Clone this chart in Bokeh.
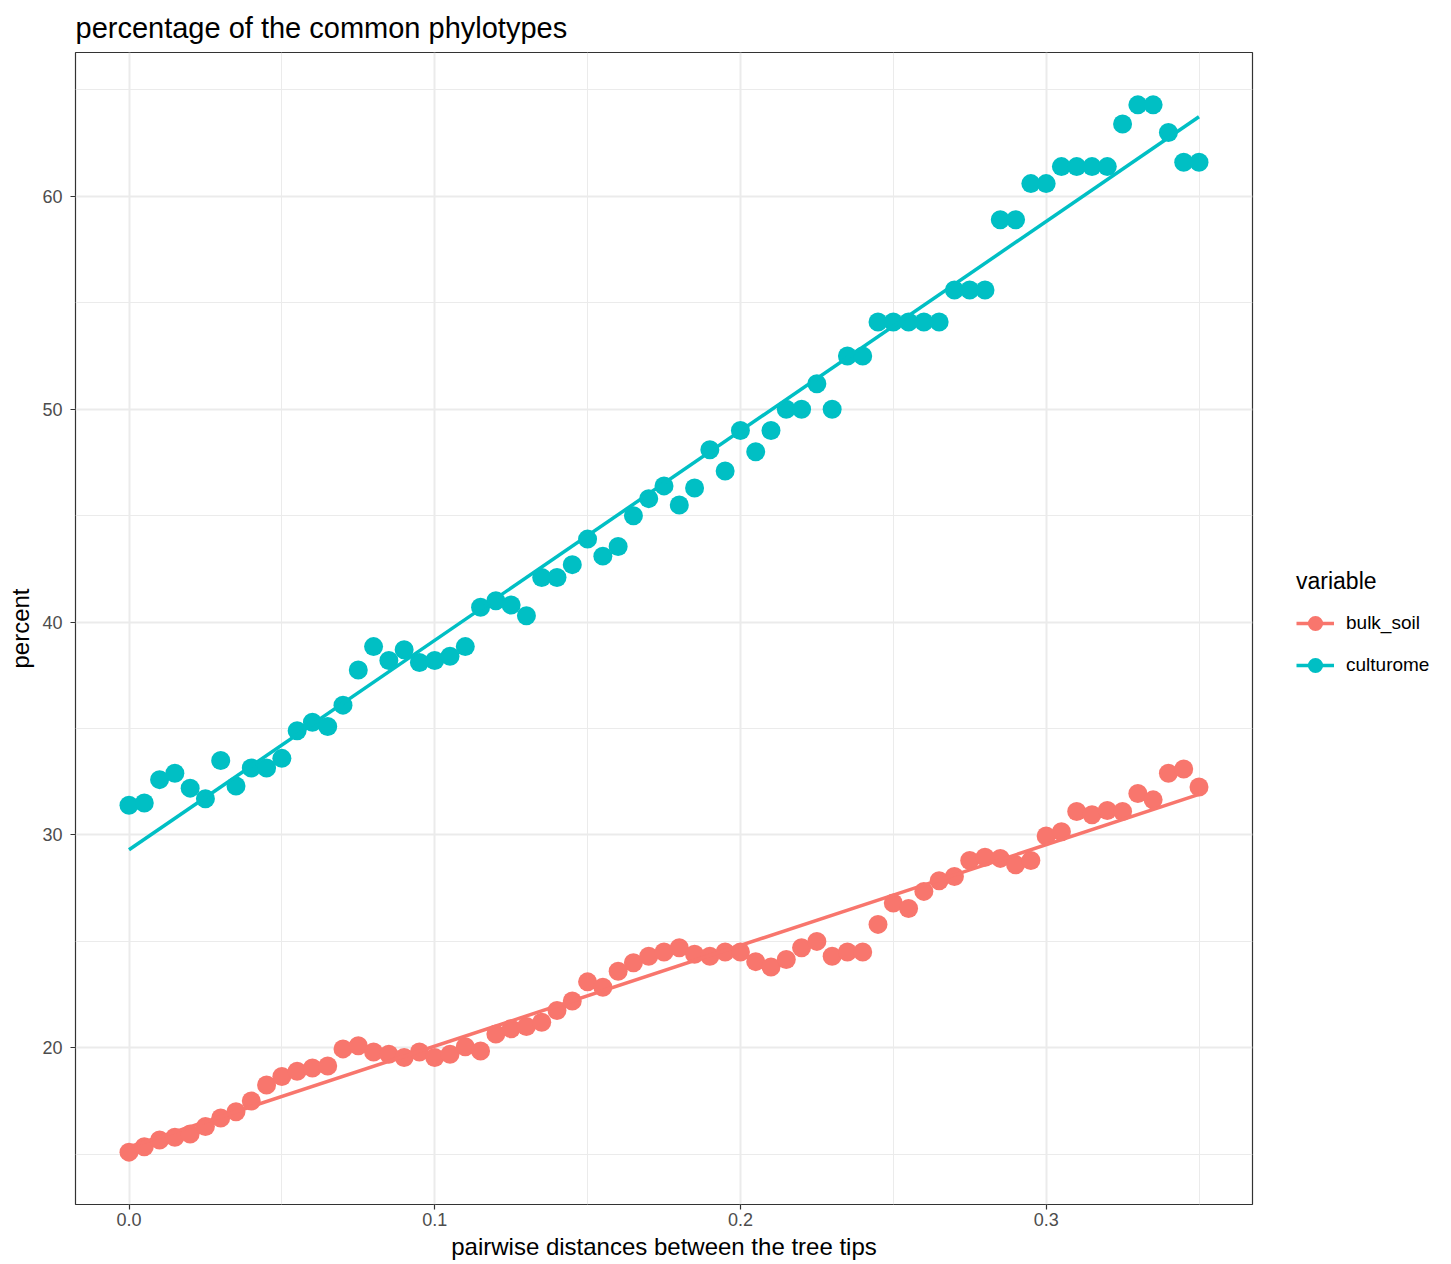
import numpy as np
from bokeh.plotting import figure
from bokeh.models import (Range1d, FixedTicker, PrintfTickFormatter, Legend, LegendItem)
from bokeh.embed import file_html
from bokeh.resources import INLINE

# ---- data ----
distance = [round(i * 0.005, 3) for i in range(71)]
bulk_soil = [15.1, 15.35, 15.67, 15.8, 15.95, 16.3, 16.7, 17.0, 17.5, 18.25,
             18.65, 18.9, 19.05, 19.15, 19.95, 20.1, 19.8, 19.7, 19.55, 19.8,
             19.55, 19.7, 20.05, 19.85, 20.65, 20.9, 21.0, 21.2, 21.75, 22.2,
             23.1, 22.85, 23.6, 24.0, 24.3, 24.5, 24.7, 24.4, 24.3, 24.5,
             24.5, 24.05, 23.8, 24.15, 24.7, 25.0, 24.3, 24.5, 24.5, 25.8,
             26.8, 26.55, 27.35, 27.85, 28.05, 28.8, 28.95, 28.9, 28.6, 28.8,
             29.95, 30.15, 31.1, 30.95, 31.15, 31.1, 31.95, 31.65, 32.9, 33.1,
             32.25]
culturome = [31.4, 31.5, 32.6, 32.9, 32.2, 31.7, 33.5, 32.3, 33.15, 33.15,
             33.6, 34.9, 35.3, 35.1, 36.1, 37.75, 38.85, 38.2, 38.7, 38.1,
             38.2, 38.4, 38.85, 40.7, 41.0, 40.8, 40.3, 42.1, 42.1, 42.7,
             43.9, 43.1, 43.55, 45.0, 45.8, 46.4, 45.5, 46.3, 48.1, 47.1,
             49.0, 48.0, 49.0, 50.0, 50.0, 51.2, 50.0, 52.5, 52.5, 54.1,
             54.1, 54.1, 54.1, 54.1, 55.6, 55.6, 55.6, 58.9, 58.9, 60.6,
             60.6, 61.4, 61.4, 61.4, 61.4, 63.4, 64.3, 64.3, 63.0, 61.6,
             61.6]
series_names = ["bulk_soil", "culturome"]
series_colors = ["#F8766D", "#00BFC4"]
x_ticks = [0.0, 0.1, 0.2, 0.3]
x_minor = [0.05, 0.15, 0.25, 0.35]
y_ticks = [20, 30, 40, 50, 60]
y_minor = [15, 25, 35, 45, 55, 65]

FONT = "Liberation Sans"

x = np.array(distance)
xmin, xmax = x.min(), x.max()
xpad = (xmax - xmin) * 0.05
allv = np.array(bulk_soil + culturome)
ymin, ymax = allv.min(), allv.max()
ypad = (ymax - ymin) * 0.05

FW, FH = 1177, 1152
BL, BR, BT, BB = 75, 186, 52, 52

p = figure(frame_width=FW, frame_height=FH, output_backend="svg",
           toolbar_location=None,
           x_range=Range1d(xmin - xpad, xmax + xpad),
           y_range=Range1d(ymin - ypad, ymax + ypad),
           min_border_left=BL, min_border_right=BR, min_border_top=BT,
           min_border_bottom=BB,
           title="percentage of the common phylotypes")

p.title.text_font = FONT
p.title.text_font_size = "29px"
p.title.text_font_style = "normal"
p.title.text_color = "black"
p.title.standoff = 17
p.title.offset = 0

p.background_fill_color = "white"
p.border_fill_color = "white"
p.outline_line_color = "#333333"
p.outline_line_width = 1.2

p.xaxis.ticker = FixedTicker(ticks=x_ticks, minor_ticks=x_minor)
p.yaxis.ticker = FixedTicker(ticks=y_ticks, minor_ticks=y_minor)
p.xaxis.formatter = PrintfTickFormatter(format="%.1f")
p.xaxis.axis_label = "pairwise distances between the tree tips"
p.yaxis.axis_label = "percent"
for ax in (p.xaxis, p.yaxis):
    ax.axis_line_color = None
    ax.major_tick_line_color = "#333333"
    ax.major_tick_line_width = 1.2
    ax.major_tick_out = 5
    ax.major_tick_in = 0
    ax.minor_tick_line_color = None
    ax.major_label_text_font = FONT
    ax.major_label_text_font_size = "18px"
    ax.major_label_text_color = "#4D4D4D"
    ax.axis_label_text_font = FONT
    ax.axis_label_text_font_size = "24px"
    ax.axis_label_text_font_style = "normal"
    ax.axis_label_text_color = "black"
p.xaxis.major_label_standoff = 3
p.xaxis.axis_label_standoff = 4
p.yaxis.major_label_standoff = 8
p.yaxis.axis_label_standoff = 5

for g in (p.xgrid, p.ygrid):
    g.grid_line_color = "#EBEBEB"
    g.grid_line_width = 2
    g.minor_grid_line_color = "#EBEBEB"
    g.minor_grid_line_width = 1

items = []
for name, vals, col in zip(series_names, [bulk_soil, culturome], series_colors):
    y = np.array(vals)
    slope, intercept = np.polyfit(x, y, 1)
    fx = np.array([xmin, xmax])
    sc = p.scatter(x, y, size=19, fill_color=col, line_color=col, line_width=0)
    ln = p.line(fx, intercept + slope * fx, line_color=col, line_width=3.5)
    items.append(LegendItem(label=name, renderers=[ln, sc]))

legend = Legend(items=items, location=(44, FH // 2 - 57),
                title="variable",
                title_text_font=FONT, title_text_font_size="23px",
                title_text_font_style="normal", title_text_color="black",
                title_standoff=8,
                label_text_font=FONT, label_text_font_size="19px",
                label_text_color="black",
                glyph_width=38, glyph_height=40, label_height=40,
                label_standoff=12, spacing=2, padding=8, margin=0,
                border_line_color=None, background_fill_color="white",
                background_fill_alpha=1.0)
p.add_layout(legend, "right")

open("out.html", "w").write(file_html(p, INLINE))
